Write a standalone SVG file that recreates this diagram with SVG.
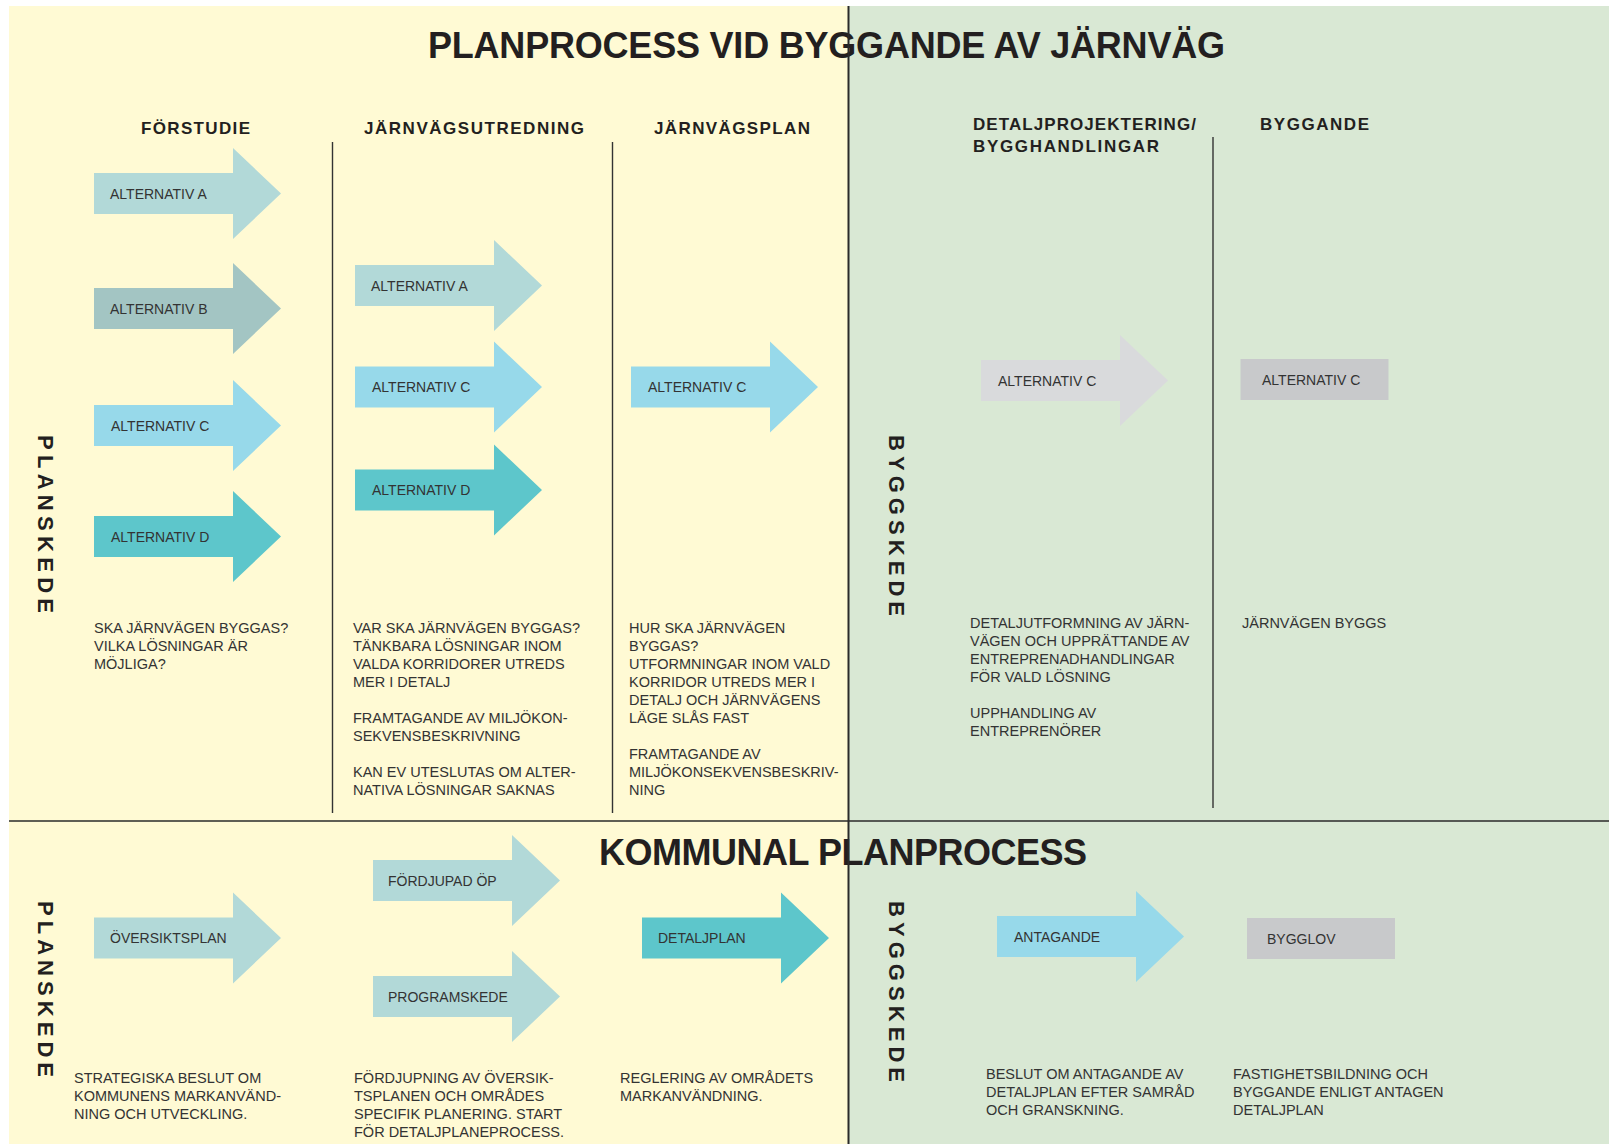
<svg xmlns="http://www.w3.org/2000/svg" width="1609" height="1144" viewBox="0 0 1609 1144">
<style>
.title{font-family:"Liberation Sans",Arial,sans-serif;font-weight:bold;font-size:36px;fill:#231F20}
.head{font-family:"Liberation Sans",Arial,sans-serif;font-weight:bold;font-size:17px;fill:#231F20}
.phase{font-family:"Liberation Sans",Arial,sans-serif;font-weight:bold;font-size:22px;fill:#231F20}
.lbl{font-family:"Liberation Sans",Arial,sans-serif;font-size:14px;fill:#333333}
.desc{font-family:"Liberation Sans",Arial,sans-serif;font-size:14.5px;fill:#333333}
.div{stroke:#333333;stroke-width:1.4;fill:none}
.main{stroke:#2a2a2a;fill:none}
.c1{fill:#B2D9D8}.c2{fill:#A3C5C3}.c3{fill:#97D9EA}.c4{fill:#5DC6CB}.c5{fill:#D9DADC}.c6{fill:#C8C9CB}
</style>
<defs>
<path id="arrow" d="M0,-20.5 H139 V-45.5 L187,0 L139,45.5 V20.5 H0 Z"/>
</defs>
<rect x="0" y="0" width="1609" height="1144" fill="#FFFFFF"/>
<rect x="9" y="6" width="840" height="1138" fill="#FFFAD4"/>
<rect x="849" y="6" width="760" height="1138" fill="#D9E8D4"/>

<g id="dividers">
<line class="div" x1="332.5" y1="142" x2="332.5" y2="813"/>
<line class="div" x1="612.5" y1="142" x2="612.5" y2="813"/>
<line class="div" x1="1213" y1="137" x2="1213" y2="808"/>
</g>

<g id="titles">
<text class="title" x="428" y="58" textLength="797">PLANPROCESS VID BYGGANDE AV JÄRNVÄG</text>
<text class="title" x="599" y="865" textLength="488">KOMMUNAL PLANPROCESS</text>
</g>

<g id="headers">
<text class="head" x="141" y="134" textLength="109">FÖRSTUDIE</text>
<text class="head" x="364" y="134" textLength="220">JÄRNVÄGSUTREDNING</text>
<text class="head" x="654" y="134" textLength="156">JÄRNVÄGSPLAN</text>
<text class="head" x="973" y="130" textLength="223">DETALJPROJEKTERING/</text>
<text class="head" x="973" y="151.5" textLength="186">BYGGHANDLINGAR</text>
<text class="head" x="1260" y="130" textLength="109">BYGGANDE</text>
</g>

<g id="phases">
<text class="phase" transform="translate(38,435) rotate(90)" textLength="178">PLANSKEDE</text>
<text class="phase" transform="translate(889,435) rotate(90)" textLength="181">BYGGSKEDE</text>
<text class="phase" transform="translate(38,901) rotate(90)" textLength="176">PLANSKEDE</text>
<text class="phase" transform="translate(889,901) rotate(90)" textLength="181">BYGGSKEDE</text>
</g>

<g id="main-lines">
<line class="main" x1="9" y1="821" x2="1609" y2="821" stroke-width="1.6"/>
<line class="main" x1="848.5" y1="6" x2="848.5" y2="1144" stroke-width="2"/>
</g>

<g id="forstudie-alt-a"><use href="#arrow" class="c1" transform="translate(94,193.5)"/><text class="lbl" x="110" y="198.5">ALTERNATIV A</text></g>
<g id="forstudie-alt-b"><use href="#arrow" class="c2" transform="translate(94,308.5)"/><text class="lbl" x="110" y="313.5">ALTERNATIV B</text></g>
<g id="forstudie-alt-c"><use href="#arrow" class="c3" transform="translate(94,425.5)"/><text class="lbl" x="111" y="430.5">ALTERNATIV C</text></g>
<g id="forstudie-alt-d"><use href="#arrow" class="c4" transform="translate(94,536.5)"/><text class="lbl" x="111" y="541.5">ALTERNATIV D</text></g>

<g id="utredning-alt-a"><use href="#arrow" class="c1" transform="translate(355,285.5)"/><text class="lbl" x="371" y="290.5">ALTERNATIV A</text></g>
<g id="utredning-alt-c"><use href="#arrow" class="c3" transform="translate(355,387)"/><text class="lbl" x="372" y="392">ALTERNATIV C</text></g>
<g id="utredning-alt-d"><use href="#arrow" class="c4" transform="translate(355,490)"/><text class="lbl" x="372" y="495">ALTERNATIV D</text></g>

<g id="plan-alt-c"><use href="#arrow" class="c3" transform="translate(631,387)"/><text class="lbl" x="648" y="392">ALTERNATIV C</text></g>

<g id="detalj-alt-c"><use href="#arrow" class="c5" transform="translate(981,380.5)"/><text class="lbl" x="998" y="385.5">ALTERNATIV C</text></g>

<g id="bygg-alt-c"><rect class="c6" x="1240.5" y="359" width="148" height="41"/><text class="lbl" x="1262" y="385">ALTERNATIV C</text></g>

<g id="oversiktsplan"><use href="#arrow" class="c1" transform="translate(94,938)"/><text class="lbl" x="110" y="943">ÖVERSIKTSPLAN</text></g>
<g id="fordjupad-op"><use href="#arrow" class="c1" transform="translate(373,880.5)"/><text class="lbl" x="388" y="885.5">FÖRDJUPAD ÖP</text></g>
<g id="programskede"><use href="#arrow" class="c1" transform="translate(373,996.5)"/><text class="lbl" x="388" y="1001.5">PROGRAMSKEDE</text></g>
<g id="detaljplan"><use href="#arrow" class="c4" transform="translate(642,938)"/><text class="lbl" x="658" y="943">DETALJPLAN</text></g>
<g id="antagande"><use href="#arrow" class="c3" transform="translate(997,936.5)"/><text class="lbl" x="1014" y="941.5">ANTAGANDE</text></g>
<g id="bygglov"><rect class="c6" x="1247" y="918" width="148" height="41"/><text class="lbl" x="1267" y="944">BYGGLOV</text></g>

<g id="desc-forstudie" class="desc">
<text x="94" y="632.5">SKA JÄRNVÄGEN BYGGAS?</text>
<text x="94" y="650.5">VILKA LÖSNINGAR ÄR</text>
<text x="94" y="668.5">MÖJLIGA?</text>
</g>
<g id="desc-utredning" class="desc">
<text x="353" y="632.5">VAR SKA JÄRNVÄGEN BYGGAS?</text>
<text x="353" y="650.5">TÄNKBARA LÖSNINGAR INOM</text>
<text x="353" y="668.5">VALDA KORRIDORER UTREDS</text>
<text x="353" y="686.5">MER I DETALJ</text>
<text x="353" y="722.5">FRAMTAGANDE AV MILJÖKON-</text>
<text x="353" y="740.5">SEKVENSBESKRIVNING</text>
<text x="353" y="776.5">KAN EV UTESLUTAS OM ALTER-</text>
<text x="353" y="794.5">NATIVA LÖSNINGAR SAKNAS</text>
</g>
<g id="desc-plan" class="desc">
<text x="629" y="632.5">HUR SKA JÄRNVÄGEN</text>
<text x="629" y="650.5">BYGGAS?</text>
<text x="629" y="668.5">UTFORMNINGAR INOM VALD</text>
<text x="629" y="686.5">KORRIDOR UTREDS MER I</text>
<text x="629" y="704.5">DETALJ OCH JÄRNVÄGENS</text>
<text x="629" y="722.5">LÄGE SLÅS FAST</text>
<text x="629" y="758.5">FRAMTAGANDE AV</text>
<text x="629" y="776.5">MILJÖKONSEKVENSBESKRIV-</text>
<text x="629" y="794.5">NING</text>
</g>
<g id="desc-detalj" class="desc">
<text x="970" y="627.5">DETALJUTFORMNING AV JÄRN-</text>
<text x="970" y="645.5">VÄGEN OCH UPPRÄTTANDE AV</text>
<text x="970" y="663.5">ENTREPRENADHANDLINGAR</text>
<text x="970" y="681.5">FÖR VALD LÖSNING</text>
<text x="970" y="717.5">UPPHANDLING AV</text>
<text x="970" y="735.5">ENTREPRENÖRER</text>
</g>
<g id="desc-byggande" class="desc">
<text x="1242" y="627.5">JÄRNVÄGEN BYGGS</text>
</g>
<g id="desc-oversikt" class="desc">
<text x="74" y="1083">STRATEGISKA BESLUT OM</text>
<text x="74" y="1101">KOMMUNENS MARKANVÄND-</text>
<text x="74" y="1119">NING OCH UTVECKLING.</text>
</g>
<g id="desc-fordjupning" class="desc">
<text x="354" y="1083">FÖRDJUPNING AV ÖVERSIK-</text>
<text x="354" y="1101">TSPLANEN OCH OMRÅDES</text>
<text x="354" y="1119">SPECIFIK PLANERING. START</text>
<text x="354" y="1137">FÖR DETALJPLANEPROCESS.</text>
</g>
<g id="desc-reglering" class="desc">
<text x="620" y="1083">REGLERING AV OMRÅDETS</text>
<text x="620" y="1101">MARKANVÄNDNING.</text>
</g>
<g id="desc-beslut" class="desc">
<text x="986" y="1079">BESLUT OM ANTAGANDE AV</text>
<text x="986" y="1097">DETALJPLAN EFTER SAMRÅD</text>
<text x="986" y="1115">OCH GRANSKNING.</text>
</g>
<g id="desc-fastighet" class="desc">
<text x="1233" y="1079">FASTIGHETSBILDNING OCH</text>
<text x="1233" y="1097">BYGGANDE ENLIGT ANTAGEN</text>
<text x="1233" y="1115">DETALJPLAN</text>
</g>
</svg>
